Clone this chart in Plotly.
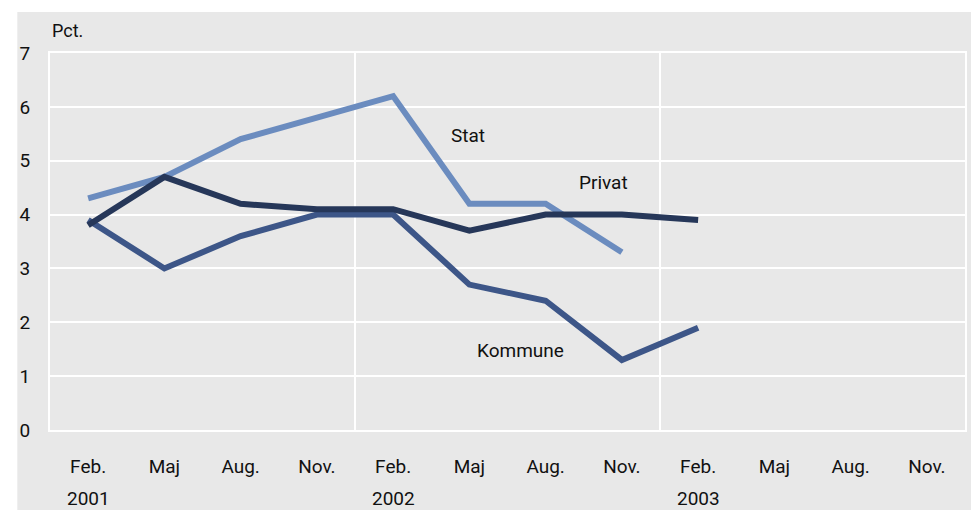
import plotly.graph_objects as go

months = ["Feb.", "Maj", "Aug.", "Nov.", "Feb.", "Maj", "Aug.", "Nov.", "Feb.", "Maj", "Aug.", "Nov."]
years = ["2001", "2002", "2003"]
year_pos = [0, 4, 8]

stat = [4.3, 4.7, 5.4, 5.8, 6.2, 4.2, 4.2, 3.3]
privat = [3.8, 4.7, 4.2, 4.1, 4.1, 3.7, 4.0, 4.0, 3.9]
kommune = [3.9, 3.0, 3.6, 4.0, 4.0, 2.7, 2.4, 1.3, 1.9]

FONT = "Roboto"
FS = 19
fig = go.Figure()
series = [
    ("Stat", stat, "#6b8cbf"),
    ("Kommune", kommune, "#3d5688"),
    ("Privat", privat, "#263759"),
]
for name, vals, col in series:
    fig.add_trace(go.Scatter(x=list(range(len(vals))), y=vals, mode="lines", name=name,
                             line=dict(color=col, width=6), showlegend=False))

labels = [("Stat", 4.98, 5.47), ("Privat", 6.76, 4.6), ("Kommune", 5.67, 1.48)]
for t, lx, ly in labels:
    fig.add_annotation(x=lx, y=ly, text=t, showarrow=False, xanchor="center", yanchor="middle",
                       font=dict(family=FONT, size=FS, color="#111"))

for yt, yp in zip(years, year_pos):
    fig.add_annotation(x=yp, y=0, yref="paper", text=yt, showarrow=False, yanchor="middle",
                       yshift=-68, font=dict(family=FONT, size=FS, color="#111"))

fig.add_annotation(x=0, y=1.061, xref="paper", yref="paper", text="Pct.", showarrow=False,
                   xanchor="left", yanchor="middle", font=dict(family=FONT, size=18, color="#111"))

fig.add_shape(type="rect", xref="paper", yref="paper", x0=-0.0357, x1=1.0119, y0=-0.2122, y1=1.1088,
              fillcolor="#e8e8e8", line=dict(width=0), layer="below")

fig.update_layout(
    width=971, height=504,
    margin=dict(l=33, r=13, t=45, b=82),
    paper_bgcolor="white", plot_bgcolor="#dcdcdc",
    font=dict(family=FONT, size=FS, color="#111"),
    xaxis=dict(range=[-0.5, 11.5], tickvals=list(range(12)), ticktext=months,
               showgrid=False, zeroline=False, ticks="outside", ticklen=18,
               tickcolor="rgba(0,0,0,0)", showline=True, linecolor="white", linewidth=2, mirror=True,
               tickfont=dict(family=FONT, size=FS),
               minor=dict(tickvals=[3.5, 7.5], showgrid=True, gridcolor="white", gridwidth=2, ticks="")),
    yaxis=dict(range=[0, 7], dtick=1, showgrid=True, gridcolor="white", gridwidth=2,
               zeroline=False, ticks="outside", ticklen=14, tickcolor="rgba(0,0,0,0)",
               tickfont=dict(family=FONT, size=FS),
               showline=True, linecolor="white", linewidth=2, mirror=True),
)
fig.write_html("out.html")
